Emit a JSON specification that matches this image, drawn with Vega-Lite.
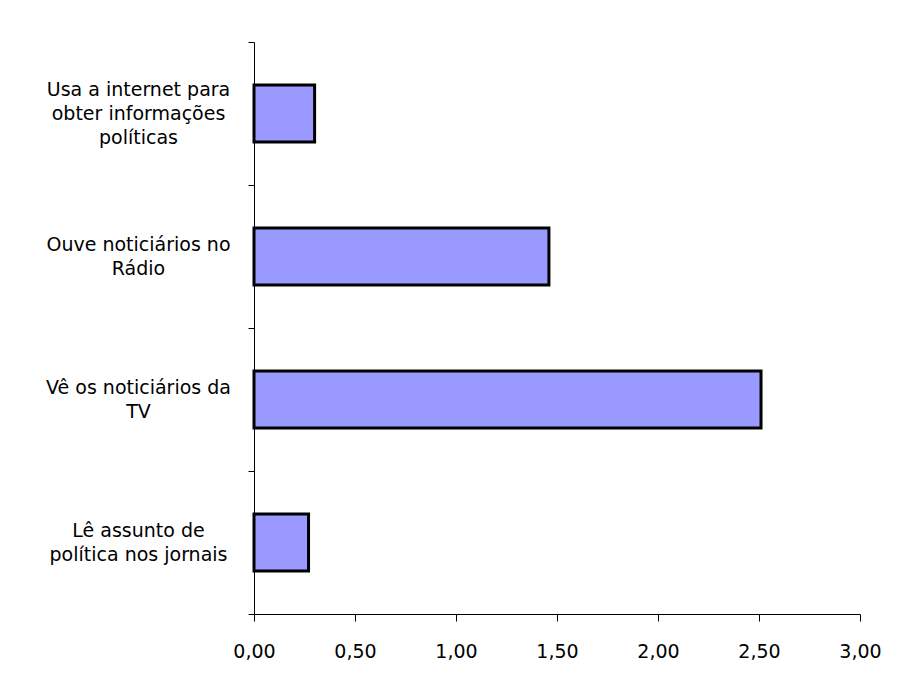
{
  "$schema": "https://vega.github.io/schema/vega-lite/v6.json",
  "autosize": {"type": "none"},
  "padding": {"left": 254, "top": 42, "right": 39, "bottom": 73},
  "width": 606,
  "height": 572,
  "background": "white",
  "data": {
    "values": [
      {"item": "\u200b|Usa a internet para|\u200b|obter informações|\u200b|políticas", "valor": 0.30},
      {"item": "\u200b|\u200b|Ouve noticiários no|\u200b|Rádio", "valor": 1.46},
      {"item": "\u200b|\u200b|Vê os noticiários da|\u200b|TV", "valor": 2.51},
      {"item": "\u200b|\u200b|Lê assunto de|\u200b|política nos jornais", "valor": 0.27}
    ]
  },
  "encoding": {
    "x": {
      "field": "valor",
      "type": "quantitative",
      "scale": {"domain": [0, 3], "nice": false},
      "axis": {
        "title": null,
        "values": [0, 0.5, 1, 1.5, 2, 2.5, 3],
        "grid": false,
        "tickSize": 7,
        "tickColor": "#000000",
        "domainColor": "#000000",
        "labelExpr": "replace(format(datum.value, '.2f'), '.', ',')",
        "labelPadding": 21,
        "labelFont": "DejaVu Sans",
        "labelFontSize": 19,
        "labelColor": "#000000",
        "labelFlush": false,
        "labelOverlap": false
      }
    }
  },
  "layer": [
    {
      "mark": {"type": "point", "opacity": 0},
      "encoding": {
        "y": {
          "field": "item",
          "type": "nominal",
          "sort": null,
          "scale": {"type": "band", "paddingInner": 0, "paddingOuter": 0},
          "axis": {
            "title": null,
            "orient": "left",
            "tickBand": "extent",
            "tickSize": 6,
            "tickColor": "#000000",
            "domainColor": "#000000",
            "labelExpr": "split(datum.label, '|')",
            "labelAlign": "center",
            "labelBaseline": "middle",
            "labelOffset": -36,
            "labelPadding": 110,
            "labelLimit": 400,
            "labelLineHeight": 12,
            "labelFont": "DejaVu Sans",
            "labelFontSize": 19,
            "labelColor": "#000000",
            "labelOverlap": false
          }
        }
      }
    },
    {
      "mark": {"type": "bar", "fill": "#9999FF", "stroke": "#000000", "strokeWidth": 3},
      "encoding": {
        "y": {
          "field": "item",
          "type": "nominal",
          "sort": null,
          "scale": {"paddingInner": 0.6, "paddingOuter": 0.3},
          "axis": null
        }
      }
    }
  ],
  "resolve": {"scale": {"y": "independent"}, "axis": {"y": "independent"}},
  "config": {"view": {"stroke": null}}
}
